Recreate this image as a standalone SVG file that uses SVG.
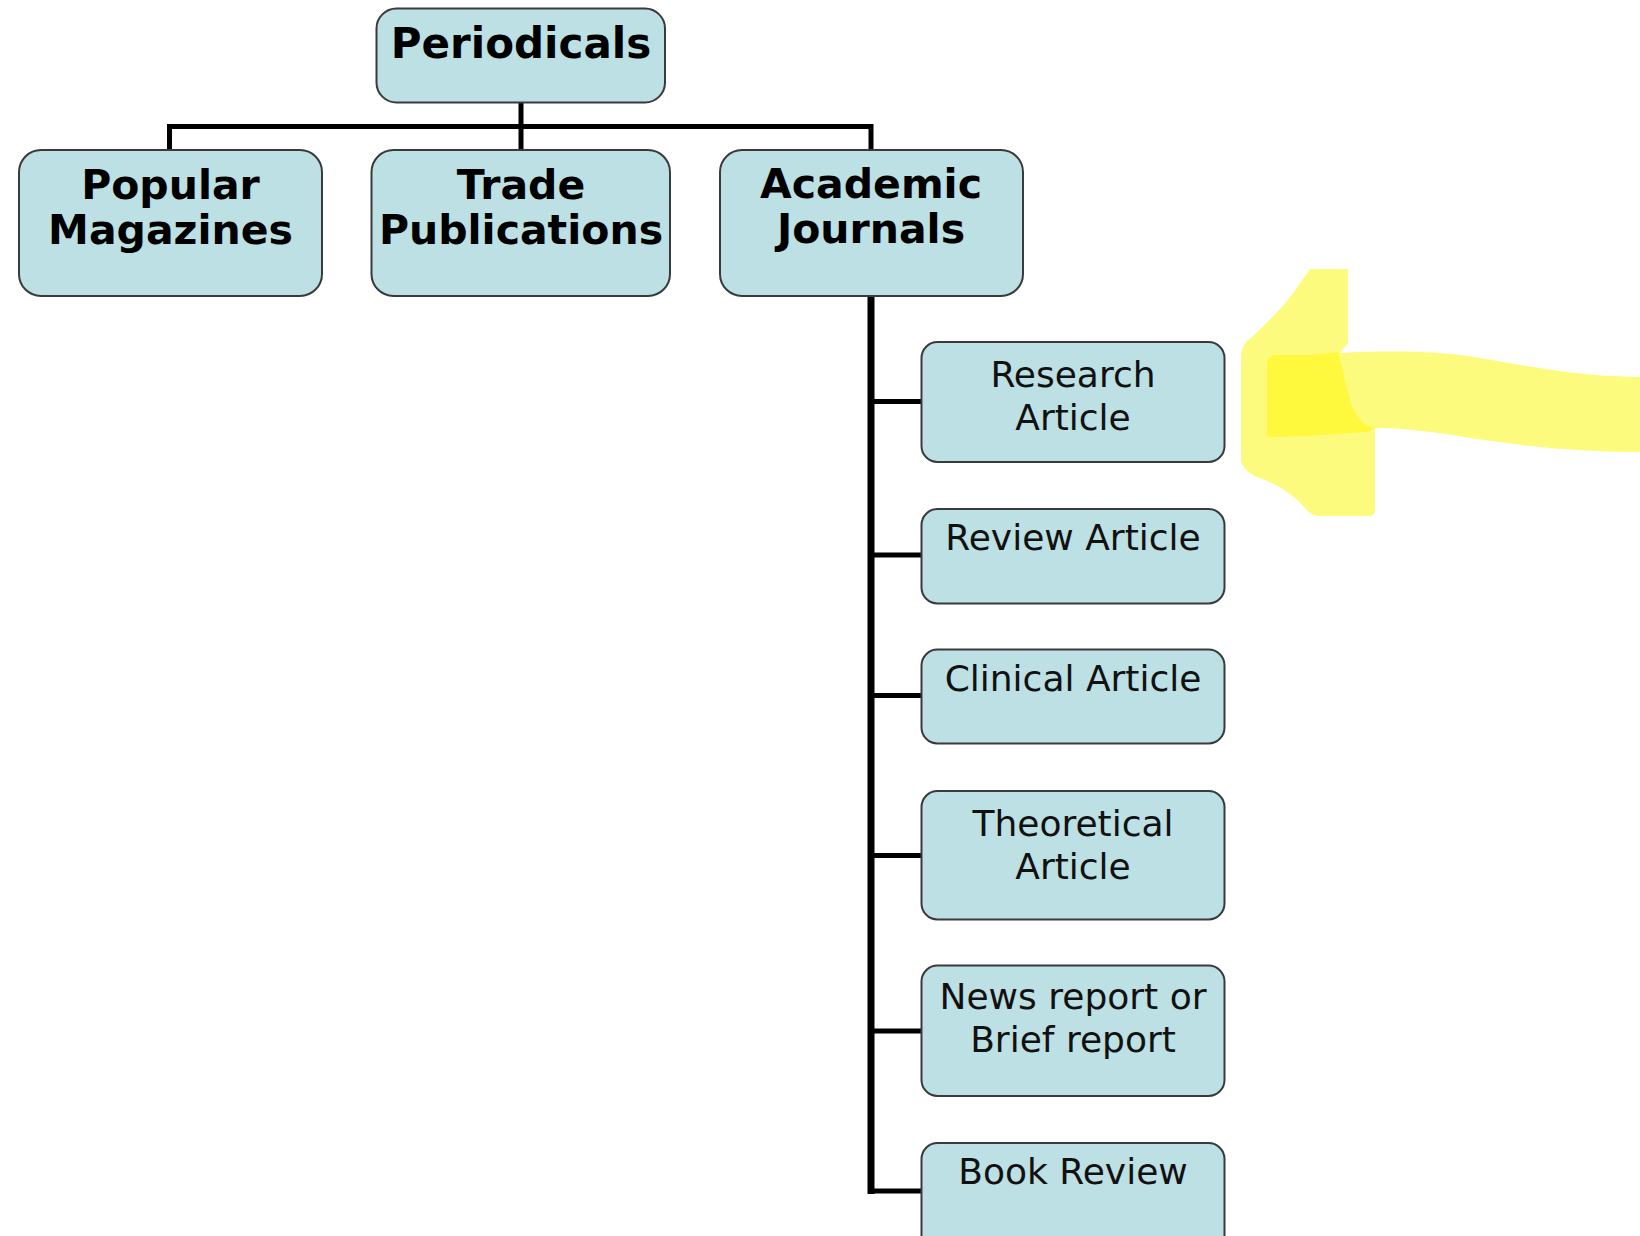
<svg xmlns="http://www.w3.org/2000/svg" width="1640" height="1236" viewBox="0 0 1640 1236">
<style>
.box{fill:#BCE0E3;stroke:#3a3a3a;stroke-width:2}
.b{font-family:"DejaVu Sans",Verdana,sans-serif;font-weight:bold;font-size:41px;fill:#000;text-anchor:middle}
.r{font-family:"DejaVu Sans",Verdana,sans-serif;font-size:36px;fill:#111;text-anchor:middle}
.ln{fill:none;stroke:#000;stroke-width:5;stroke-linejoin:miter;stroke-linecap:butt}
</style>
<rect width="1640" height="1236" fill="#fff"/>
<g id="connectors">
<path class="ln" d="M521,102 V150 M169.5,151 V126.5 H871 V151"/>
<path class="ln" style="stroke-width:7" d="M871,296 V1194"/>
<path class="ln" d="M871,401.5 H922 M871,555 H922 M871,695.5 H922 M871,855.5 H922 M871,1031 H922 M871,1191 H922"/>
</g>
<g id="periodicals"><rect class="box" x="376.5" y="8.5" width="288.5" height="94" rx="20"/><text class="b" x="521" y="58" style="font-size:42px">Periodicals</text></g>
<g id="popular"><rect class="box" x="19" y="150" width="303" height="146" rx="22"/><text class="b" x="170.5" y="199">Popular</text><text class="b" x="170.5" y="244">Magazines</text></g>
<g id="trade"><rect class="box" x="371.5" y="150" width="298.5" height="146" rx="22"/><text class="b" x="521" y="199">Trade</text><text class="b" x="521" y="244">Publications</text></g>
<g id="academic"><rect class="box" x="720" y="150" width="303" height="146" rx="22"/><text class="b" x="871" y="198">Academic</text><text class="b" x="871" y="243">Journals</text></g>
<g id="research"><rect class="box" x="921.5" y="342" width="303" height="120" rx="16"/><text class="r" x="1073" y="387">Research</text><text class="r" x="1073" y="430">Article</text></g>
<g id="review"><rect class="box" x="921.5" y="509" width="303" height="94.5" rx="16"/><text class="r" x="1073" y="550">Review Article</text></g>
<g id="clinical"><rect class="box" x="921.5" y="649.5" width="303" height="94" rx="16"/><text class="r" x="1073" y="691">Clinical Article</text></g>
<g id="theoretical"><rect class="box" x="921.5" y="791" width="303" height="128.5" rx="16"/><text class="r" x="1073" y="836">Theoretical</text><text class="r" x="1073" y="879">Article</text></g>
<g id="news"><rect class="box" x="921.5" y="965.5" width="303" height="130.5" rx="16"/><text class="r" x="1073" y="1009">News report or</text><text class="r" x="1073" y="1052">Brief report</text></g>
<g id="book"><rect class="box" x="921.5" y="1143" width="303" height="110" rx="16"/><text class="r" x="1073" y="1184">Book Review</text></g>
<g id="highlight">
<path fill="#FDFB7D" d="M1310,269 L1348,269 L1348,343 L1340,353 C1400,350 1450,352 1480,358 C1530,366 1570,376 1640,377 L1640,452 C1580,452 1530,447 1470,438 C1430,431 1400,428 1375,428 L1375,510 Q1375,516 1368,516 L1318,516 Q1310,515 1305,508 C1295,496 1280,486 1265,480 C1250,475 1245,470 1241,462 L1241,355 Q1242,343 1252,337 C1270,320 1290,300 1300,283 Z"/>
<path fill="#FFF93E" d="M1267,360 L1274,355 L1310,355 L1338,352 L1340,360 C1345,380 1350,405 1355,412 C1360,422 1368,427 1375,428 L1367,432 L1305,436 L1267,437 Z"/>
</g>
</svg>
